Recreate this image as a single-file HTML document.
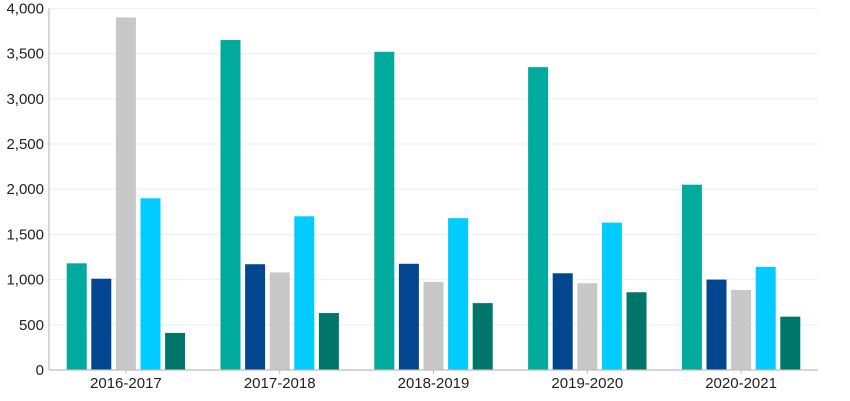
<!DOCTYPE html>
<html><head><meta charset="utf-8">
<style>
html,body{margin:0;padding:0;background:#fff;}
svg{display:block;font-family:"Liberation Sans",Arial,sans-serif;}
</style></head>
<body>
<svg id="chart" width="850" height="401" viewBox="0 0 850 401"></svg>
<script>
const categories = ["2016-2017","2017-2018","2018-2019","2019-2020","2020-2021"];
const series1 = [1180, 3650, 3520, 3350, 2050];
const series2 = [1010, 1170, 1175, 1070, 1000];
const series3 = [3900, 1080, 975, 960, 885];
const series4 = [1900, 1700, 1680, 1630, 1140];
const series5 = [410, 630, 740, 860, 590];
const yTicks = [0,500,1000,1500,2000,2500,3000,3500,4000];
const yTickLabels = ["0","500","1,000","1,500","2,000","2,500","3,000","3,500","4,000"];

const allSeries = [series1, series2, series3, series4, series5];
const seriesNames = ["series-1","series-2","series-3","series-4","series-5"];
const colors = ["#00aa9c","#02468f","#c8c8c8","#00ccff","#00766a"];

const svg = document.getElementById('chart');
const NS = 'http://www.w3.org/2000/svg';
const x0 = 49, x1 = 818, yBase = 370, yTop = 8.4, yMax = 4000;
const band = (x1 - x0) / categories.length;
const y = v => yBase - (v / yMax) * (yBase - yTop);
const bandCenter = i => x0 + band * (i + 0.5);
const barW = 20, step = 24.6;

function mk(tag, attrs){ const e = document.createElementNS(NS, tag); for (const k in attrs) e.setAttribute(k, attrs[k]); svg.appendChild(e); return e; }

yTicks.forEach((t, i) => {
  if (t > 0) {
    const g = mk('line', {x1: x0, x2: x1, y1: y(t), y2: y(t), stroke: '#eeeeee', 'stroke-width': 1});
    
    
  }
  const lab = mk('text', {x: x0 - 5, y: y(t) + 5, 'text-anchor': 'end', 'font-size': 15, fill: '#222'});
  lab.textContent = yTickLabels[i];
  
  
});

allSeries.forEach((s, si) => {
  s.forEach((v, ci) => {
    const bx = bandCenter(ci) + (si - 2) * step - barW / 2;
    const r = mk('rect', {x: bx, y: y(v), width: barW, height: yBase - y(v), fill: colors[si]});
    
    
  });
});

const ax = mk('line', {x1: x0, x2: x1, y1: yBase, y2: yBase, stroke: '#bdbdbd', 'stroke-width': 1.2});


const ay = mk('line', {x1: x0, x2: x0, y1: yTop, y2: yBase, stroke: '#bdbdbd', 'stroke-width': 1.2});



categories.forEach((c, i) => {
  const tk = mk('line', {x1: bandCenter(i), x2: bandCenter(i), y1: yBase, y2: yBase + 4, stroke: '#bdbdbd'});
  
  
  const t = mk('text', {x: bandCenter(i), y: 388, 'text-anchor': 'middle', 'font-size': 15, fill: '#222'});
  t.textContent = c;
  
  
});
</script>
</body></html>
